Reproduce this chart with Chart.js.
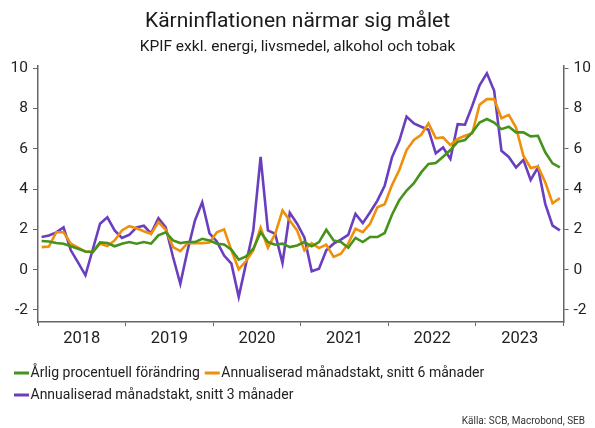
<!DOCTYPE html>
<html lang="sv">
<head>
<meta charset="utf-8">
<title>Kärninflationen närmar sig målet</title>
<script src="https://cdn.jsdelivr.net/npm/chart.js@4.4.1/dist/chart.umd.min.js"></script>
<style>
  html, body { margin: 0; padding: 0; background: #fff; }
  #wrap { width: 595px; height: 428px; }
</style>
</head>
<body>
<div id="wrap"><canvas id="chart" width="595" height="428"></canvas></div>
<script>
// Monthly data, Jan 2018 - Dec 2023
const years = ['2018', '2019', '2020', '2021', '2022', '2023'];

const arligForandring = [
  1.42, 1.40, 1.32, 1.29, 1.16, 1.04, 0.90, 0.87, 1.35, 1.32, 1.16, 1.29,
  1.37, 1.29, 1.37, 1.29, 1.70, 1.86, 1.45, 1.32, 1.37, 1.37, 1.53, 1.45,
  1.29, 1.25, 0.99, 0.50, 0.66, 1.04, 1.86, 1.37, 1.24, 1.29, 1.12, 1.20,
  1.37, 1.16, 1.37, 1.98, 1.45, 1.37, 1.09, 1.58, 1.37, 1.62, 1.62, 1.82,
  2.73, 3.45, 3.93, 4.29, 4.83, 5.25, 5.30, 5.61, 5.94, 6.35, 6.44, 6.82,
  7.31, 7.48, 7.31, 6.98, 7.10, 6.82, 6.82, 6.62, 6.65, 5.83, 5.28, 5.08
];

const snitt6 = [
  1.12, 1.15, 1.86, 1.86, 1.29, 1.09, 0.90, 0.87, 1.29, 1.17, 1.45, 1.95,
  2.16, 2.06, 1.91, 1.78, 2.36, 1.98, 1.12, 0.92, 1.32, 1.32, 1.32, 1.35,
  1.86, 2.00, 0.96, 0.02, 0.43, 0.96, 2.08, 1.09, 1.78, 2.94, 2.44, 1.95,
  0.96, 1.32, 1.07, 1.24, 0.63, 0.79, 1.29, 2.03, 1.86, 2.28, 3.10, 3.25,
  4.20, 4.95, 5.94, 6.44, 6.70, 7.26, 6.53, 6.57, 6.19, 6.49, 6.65, 6.77,
  8.19, 8.47, 8.47, 7.52, 7.69, 7.06, 5.66, 5.05, 5.12, 4.34, 3.30, 3.55
];

const snitt3 = [
  1.62, 1.70, 1.85, 2.10, 0.96, 0.35, -0.28, 1.00, 2.28, 2.60, 1.95, 1.58,
  1.73, 2.10, 2.18, 1.80, 2.56, 2.10, 0.63, -0.70, 0.96, 2.44, 3.35, 1.80,
  1.40, 0.70, 0.30, -1.35, 0.30, 1.95, 5.60, 1.95, 1.78, 0.33, 2.82, 2.28,
  1.60, -0.08, 0.05, 0.96, 1.29, 1.49, 1.73, 2.77, 2.31, 2.85, 3.43, 4.17,
  5.58, 6.40, 7.60, 7.26, 7.10, 6.95, 5.78, 6.07, 5.50, 7.23, 7.20, 8.14,
  9.16, 9.75, 8.88, 5.90, 5.60, 5.08, 5.45, 4.46, 5.08, 3.27, 2.19, 1.95
];

const yTicks = [-2, -1, 0, 1, 2, 3, 4, 5, 6, 7, 8, 9, 10];

const AXIS_GREY = '#666666';
const FONT = 'Roboto';

// month index -> x at the middle of the month
function toPoints(values) {
  return values.map((v, i) => ({ x: i + 0.5, y: v }));
}

// legend rows (dataset indexes) and the source line, drawn under the axis
const legendRows = [[0, 1], [2]];

const footerPlugin = {
  id: 'footer',
  afterDraw(chart) {
    const ctx = chart.ctx;
    ctx.save();
    ctx.font = '14px ' + FONT;
    ctx.textBaseline = 'middle';
    ctx.textAlign = 'left';
    legendRows.forEach((row, r) => {
      let x = 14;
      const y = 373 + r * 22;
      row.forEach(i => {
        const ds = chart.data.datasets[i];
        ctx.fillStyle = ds.borderColor;
        ctx.fillRect(x, y - 1.5, 15, 3);
        ctx.fillStyle = '#222';
        ctx.fillText(ds.label, x + 16.5, y);
        x += 16.5 + ctx.measureText(ds.label).width + 5;
      });
    });
    ctx.font = '10px ' + FONT;
    ctx.textAlign = 'right';
    ctx.fillStyle = '#333';
    ctx.fillText('Källa: SCB, Macrobond, SEB', 585, 421);
    ctx.restore();
  }
};

const yAxis = (position, width) => ({
  type: 'linear',
  position: position,
  min: -2.6,
  max: 10.15,
  afterBuildTicks: scale => { scale.ticks = yTicks.map(v => ({ value: v })); },
  afterFit: scale => { scale.width = width; },
  border: { color: AXIS_GREY, width: 1.5 },
  grid: { drawOnChartArea: false, color: AXIS_GREY, lineWidth: 1, tickLength: 5 },
  ticks: {
    padding: 5,
    color: '#222',
    font: { family: FONT, size: 15.5 },
    callback: v => (v % 2 === 0 ? String(v) : '')
  }
});

Chart.defaults.font.family = FONT;

new Chart(document.getElementById('chart'), {
  type: 'line',
  data: {
    datasets: [
      {
        label: 'Årlig procentuell förändring',
        data: toPoints(arligForandring),
        borderColor: '#46931b',
        borderWidth: 2.6
      },
      {
        label: 'Annualiserad månadstakt, snitt 6 månader',
        data: toPoints(snitt6),
        borderColor: '#f0900a',
        borderWidth: 2.6
      },
      {
        label: 'Annualiserad månadstakt, snitt 3 månader',
        data: toPoints(snitt3),
        borderColor: '#6a3fbf',
        borderWidth: 2.6
      }
    ]
  },
  options: {
    responsive: false,
    animation: false,
    devicePixelRatio: 1,
    elements: { point: { radius: 0 }, line: { tension: 0 } },
    layout: { padding: { top: 0, left: 0, right: 0, bottom: 70 } },
    plugins: {
      legend: { display: false },
      tooltip: { enabled: false },
      title: {
        display: true,
        text: 'Kärninflationen närmar sig målet',
        color: '#1a1a1a',
        font: { family: FONT, size: 21, weight: 'normal' },
        padding: { top: 9, bottom: 0 }
      },
      subtitle: {
        display: true,
        text: 'KPIF exkl. energi, livsmedel, alkohol och tobak',
        color: '#1a1a1a',
        font: { family: FONT, size: 15.5, weight: 'normal' },
        padding: { top: 4, bottom: 8.5 }
      }
    },
    scales: {
      x: {
        type: 'linear',
        min: 0,
        max: years.length * 12,
        afterBuildTicks: scale => {
          const ticks = [];
          for (let m = 0; m <= years.length * 12; m += 6) ticks.push({ value: m });
          scale.ticks = ticks;
        },
        afterFit: scale => { scale.height = 36; },
        border: { color: AXIS_GREY, width: 1.5 },
        grid: {
          drawOnChartArea: false,
          tickLength: 4,
          lineWidth: 1,
          color: ctx => (ctx.tick && ctx.tick.value % 12 === 0 ? AXIS_GREY : 'rgba(0,0,0,0)')
        },
        ticks: {
          autoSkip: false,
          maxRotation: 0,
          padding: 3,
          color: '#222',
          font: { family: FONT, size: 16.5 },
          callback: v => (v % 12 === 6 ? years[(v - 6) / 12] : '')
        }
      },
      y: yAxis('left', 38),
      y2: yAxis('right', 31.5)
    }
  },
  plugins: [footerPlugin]
});
</script>
</body>
</html>
